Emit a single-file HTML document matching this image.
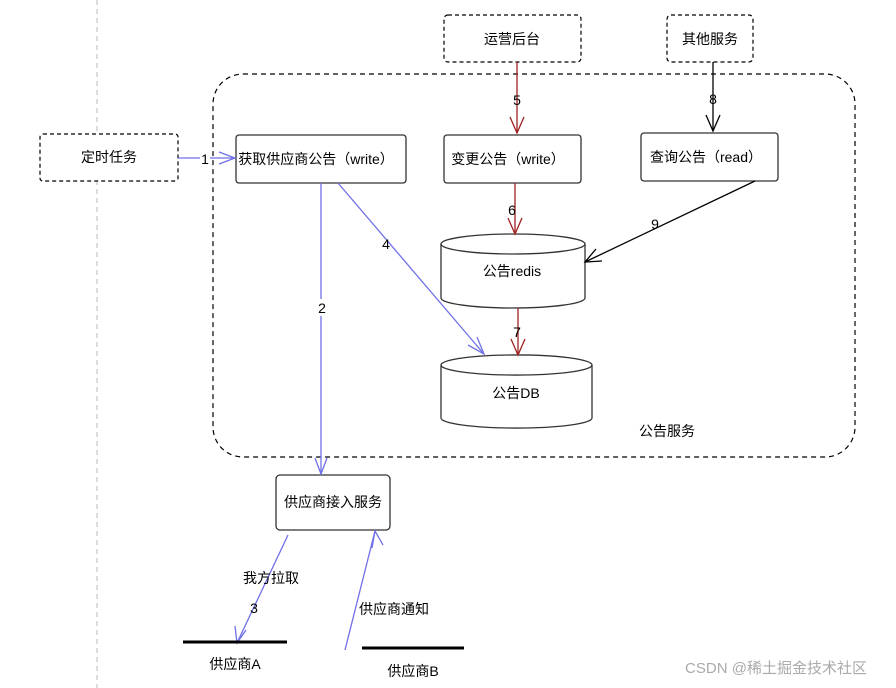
<!DOCTYPE html>
<html><head><meta charset="utf-8"><style>
html,body{margin:0;padding:0;background:#fff;width:896px;height:688px;overflow:hidden}
text{font-family:"Liberation Sans","Noto Sans CJK SC",sans-serif;font-size:14px;fill:#000}
</style></head><body>
<svg width="896" height="688" viewBox="0 0 896 688" xmlns="http://www.w3.org/2000/svg">
<line x1="97" y1="0" x2="97" y2="688" stroke="#bbb" stroke-dasharray="5,4"/>
<rect x="213" y="74" width="642" height="383" rx="30" fill="none" stroke="#000" stroke-dasharray="5,4" stroke-width="1.2"/>
<rect x="40" y="134" width="138" height="47" rx="3" fill="#fff" stroke="#000" stroke-dasharray="4,3" stroke-width="1.2"/>
<text x="109" y="162" text-anchor="middle">定时任务</text>
<rect x="444" y="15" width="137" height="47" rx="4" fill="#fff" stroke="#000" stroke-dasharray="4,3" stroke-width="1.2"/>
<text x="512" y="44" text-anchor="middle">运营后台</text>
<rect x="667" y="15" width="86" height="47" rx="4" fill="#fff" stroke="#000" stroke-dasharray="4,3" stroke-width="1.2"/>
<text x="710" y="44" text-anchor="middle">其他服务</text>
<rect x="236" y="135" width="170" height="48" rx="3" fill="#fff" stroke="#333" stroke-width="1.3"/>
<text x="316" y="164" text-anchor="middle">获取供应商公告（write）</text>
<rect x="444" y="135" width="137" height="48" rx="3" fill="#fff" stroke="#333" stroke-width="1.3"/>
<text x="508" y="164" text-anchor="middle">变更公告（write）</text>
<rect x="641" y="133" width="137" height="48" rx="3" fill="#fff" stroke="#333" stroke-width="1.3"/>
<text x="706" y="162" text-anchor="middle">查询公告（read）</text>
<path d="M441,244 A72,10 0 0 1 585,244 L585,298 A72,10 0 0 1 441,298 Z" fill="#fff" stroke="#333" stroke-width="1.3"/>
<path d="M441,244 A72,10 0 0 0 585,244" fill="none" stroke="#333" stroke-width="1.3"/>
<text x="512" y="276" text-anchor="middle">公告redis</text>
<path d="M441,365 A75,10 0 0 1 592,365 L592,418 A75,10 0 0 1 441,418 Z" fill="#fff" stroke="#333" stroke-width="1.3"/>
<path d="M441,365 A75,10 0 0 0 592,365" fill="none" stroke="#333" stroke-width="1.3"/>
<text x="516" y="398" text-anchor="middle">公告DB</text>
<text x="667" y="436" text-anchor="middle">公告服务</text>
<rect x="276" y="475" width="114" height="55" rx="4" fill="#fff" stroke="#333" stroke-width="1.3"/>
<text x="333" y="507" text-anchor="middle">供应商接入服务</text>
<g fill="none" stroke-width="1.3">
<g stroke="#7070e8">
<line x1="178" y1="158" x2="235" y2="158"/><path d="M219,152 L235,158 L219,164"/>
<line x1="321" y1="183" x2="321" y2="474"/><path d="M315,458 L321,474 L327,458"/>
<line x1="338" y1="183" x2="484" y2="354"/><path d="M468,345 L484,354 L477,337"/>
<line x1="288" y1="535" x2="237" y2="643"/><path d="M235,626 L237,643 L246,630"/>
<line x1="345" y1="650" x2="375" y2="531"/><path d="M372,548 L375,531 L383,545"/>
</g>
<g stroke="#a02020">
<line x1="517" y1="62" x2="517" y2="133"/><path d="M510,117 L517,133 L524,117"/>
<line x1="515" y1="183" x2="515" y2="234"/><path d="M508,218 L515,234 L522,218"/>
<line x1="518" y1="308" x2="518" y2="355"/><path d="M511,339 L518,355 L525,339"/>
</g>
<g stroke="#000">
<line x1="713" y1="62" x2="713" y2="131"/><path d="M706,115 L713,131 L720,115"/>
<line x1="755" y1="181" x2="585" y2="262"/><path d="M596,249 L585,262 L602,261"/>
</g>
<line x1="183" y1="642" x2="287" y2="642" stroke="#000" stroke-width="3"/>
<line x1="362" y1="648" x2="464" y2="648" stroke="#000" stroke-width="3"/>
</g>
<g text-anchor="middle">
<rect x="200" y="150" width="10" height="16" fill="#fff"/><text x="205" y="164">1</text>
<rect x="316" y="299" width="12" height="17" fill="#fff"/><text x="322" y="313">2</text>
<text x="386" y="249">4</text>
<text x="517" y="105">5</text>
<text x="512" y="215">6</text>
<text x="517" y="337">7</text>
<text x="713" y="104">8</text>
<text x="655" y="229">9</text>
<text x="271" y="583">我方拉取</text>
<text x="254" y="613">3</text>
<text x="394" y="614">供应商通知</text>
<text x="235" y="669">供应商A</text>
<text x="413" y="676">供应商B</text>
<text x="776" y="673" style="fill:#aaa;font-size:15px">CSDN @稀土掘金技术社区</text>
</g>
</svg>
</body></html>
